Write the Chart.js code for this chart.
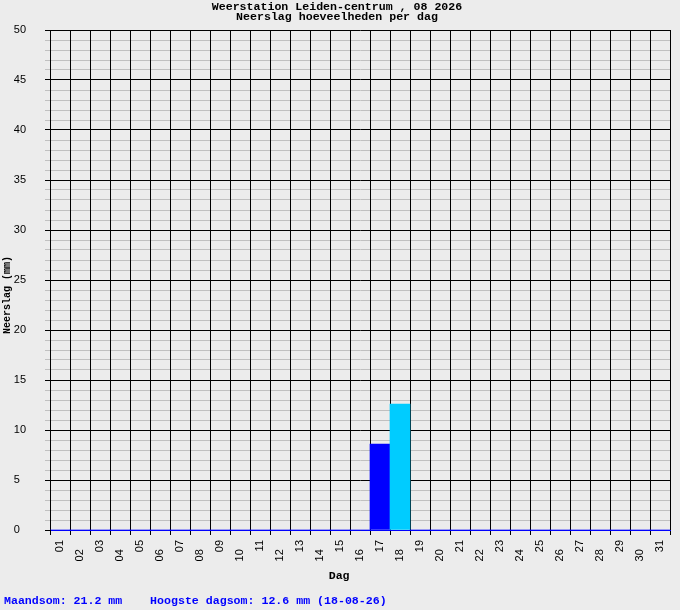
<!DOCTYPE html>
<html>
<head>
<meta charset="utf-8">
<script src="https://cdn.jsdelivr.net/npm/chart.js@4"></script>
<style>
  body { margin: 0; background: #ececec; }
  #wrap { width: 680px; height: 610px; }
  canvas { background: #ececec; }
</style>
</head>
<body>
<div id="wrap"><canvas id="rainChart" width="680" height="610"></canvas></div>
<script>
var days = ['01','02','03','04','05','06','07','08','09','10','11','12','13','14','15','16',
  '17','18','19','20','21','22','23','24','25','26','27','28','29','30','31'];
var rain = [0,0,0,0,0,0,0,0,0,0,0,0,0,0,0,0,
  8.6,12.6,0,0,0,0,0,0,0,0,0,0,0,0,0];
var maxDate = '18-08-26';

var total = 0;
var highest = 0;
for (var i = 0; i < rain.length; i++) {
  total += rain[i];
  if (rain[i] > highest) highest = rain[i];
}

var monoBold = { family: "'Liberation Mono', 'DejaVu Sans Mono', monospace", weight: 'bold', size: 11.6 };

var ctx = document.getElementById('rainChart').getContext('2d');

var config = {
  type: 'bar',
  data: {
    labels: days,
    datasets: [{
      data: rain,
      backgroundColor: function(c) {
        return c.raw === highest ? '#00ccff' : '#0000ff';
      },
      borderWidth: 0,
      barPercentage: 1,
      categoryPercentage: 1
    }]
  },
  options: {
    responsive: false,
    animation: false,
    layout: { padding: { left: 4, right: 10, top: 0, bottom: 0 } },
    plugins: {
      legend: { display: false },
      tooltip: { enabled: false },
      title: {
        display: true,
        text: ['Weerstation Leiden-centrum , 08 2026', 'Neerslag hoeveelheden per dag'],
        color: '#000',
        font: Object.assign({}, monoBold, { lineHeight: '10px' }),
        padding: { top: 2.4, bottom: 7.6 }
      },
      subtitle: {
        display: true,
        position: 'bottom',
        align: 'start',
        text: 'Maandsom: ' + total.toFixed(1) + ' mm    Hoogste dagsom: ' + highest.toFixed(1) + ' mm (' + maxDate + ')',
        color: '#0000ff',
        font: Object.assign({}, monoBold, { lineHeight: 1 }),
        padding: { top: 2, bottom: 3.2 }
      }
    },
    scales: {
      x: {
        offset: true,
        grid: { color: '#000', lineWidth: 1, tickLength: 5, offset: true, z: 0 },
        border: { color: '#0000ff', width: 1 },
        ticks: {
          autoSkip: false,
          minRotation: 90,
          maxRotation: 90,
          padding: 5,
          color: '#000',
          font: { family: "'Liberation Sans', Arial, sans-serif", size: 11 },
          callback: function(v, idx) {
            // even days sit a bit lower
            return (idx % 2 === 1) ? days[idx] + '   ' : days[idx];
          }
        },
        title: {
          display: true,
          text: 'Dag      ',
          color: '#000',
          font: Object.assign({}, monoBold, { lineHeight: 1 }),
          padding: { top: 0, bottom: 11.5 }
        },
        afterFit: function(s) { s.height = 63.2; }
      },
      y: {
        min: 0,
        max: 50,
        grid: {
          z: -2,
          tickLength: 5,
          lineWidth: 1,
          color: function(c) {
            return c.tick.value % 5 === 0 ? '#000' : '#c0c0c0';
          }
        },
        border: { color: '#000', width: 1 },
        ticks: {
          stepSize: 1,
          autoSkip: false,
          padding: 19,
          color: '#000',
          font: { family: "'Liberation Sans', Arial, sans-serif", size: 11 },
          callback: function(v) {
            if (v % 5 !== 0) return '';
            return v < 10 ? v + '\u2007' : '' + v;
          }
        },
        title: {
          display: true,
          text: 'Neerslag (mm)     ',
          color: '#000',
          font: { family: "'Liberation Mono', 'DejaVu Sans Mono', monospace", weight: 'bold', size: 10, lineHeight: 0.6 },
          padding: { top: 0, bottom: 0 }
        },
        afterFit: function(s) { s.width = 46; }
      }
    }
  }
};

var rainChart = new Chart(ctx, config);
</script>
</body>
</html>
